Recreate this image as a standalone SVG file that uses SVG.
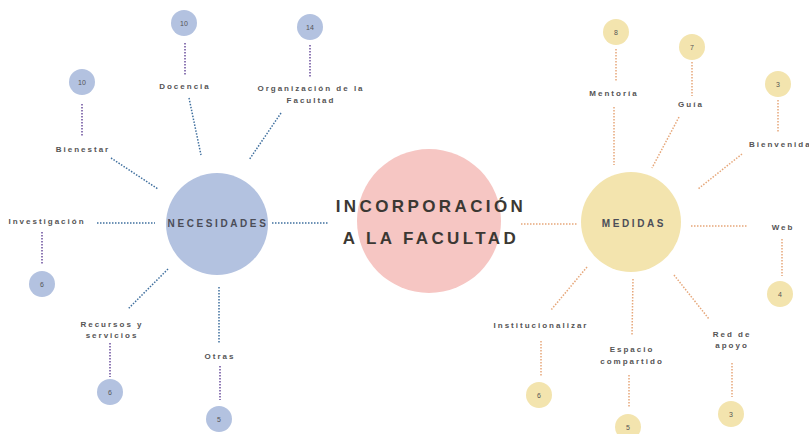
<svg xmlns="http://www.w3.org/2000/svg" width="809" height="434" viewBox="0 0 809 434">
<style>
.lbl{font-family:"Liberation Sans",Arial,sans-serif;font-weight:bold;font-size:8px;letter-spacing:2px;fill:#555455;text-anchor:middle}
.num{font-family:"Liberation Sans",Arial,sans-serif;font-size:7px;fill:#555455;text-anchor:middle}
.blue{fill:#b3c2e0}
.yel{fill:#f3e4ae}
.cb{stroke:#3f6f9e;stroke-width:1.5;stroke-dasharray:1.5 1.5;fill:none}
.cp{stroke:#6a4d9c;stroke-width:1.5;stroke-dasharray:1.5 1.5;fill:none}
.co{stroke:#e6a77a;stroke-width:1.5;stroke-dasharray:1.5 1.5;fill:none}
.big{font-family:"Liberation Sans",Arial,sans-serif;font-weight:bold;font-size:10px;letter-spacing:2.6px;fill:#4b4d58;text-anchor:middle}
.title{font-family:"Liberation Sans",Arial,sans-serif;font-weight:bold;font-size:17px;letter-spacing:3.4px;fill:#3b3833;text-anchor:middle}
</style>
<rect width="809" height="434" fill="#ffffff"/>
<g id="connectors">
<line class="cb" x1="189" y1="98" x2="201" y2="155"/>
<line class="cb" x1="281" y1="113" x2="249" y2="160"/>
<line class="cb" x1="111" y1="158" x2="158" y2="189"/>
<line class="cb" x1="97" y1="223" x2="155" y2="223"/>
<line class="cb" x1="272" y1="223" x2="328" y2="223"/>
<line class="cb" x1="168" y1="269" x2="128" y2="309"/>
<line class="cb" x1="219" y1="287" x2="219" y2="344"/>
<line class="cp" x1="185" y1="43" x2="185" y2="76"/>
<line class="cp" x1="310" y1="45" x2="310" y2="77"/>
<line class="cp" x1="82" y1="104" x2="82" y2="137"/>
<line class="cp" x1="42" y1="232" x2="42" y2="265"/>
<line class="cp" x1="110" y1="343" x2="110" y2="377"/>
<line class="cp" x1="220" y1="366" x2="220" y2="400"/>
<line class="co" x1="521" y1="224" x2="578" y2="224"/>
<line class="co" x1="614" y1="107" x2="614" y2="165"/>
<line class="co" x1="679" y1="117" x2="652" y2="168"/>
<line class="co" x1="742" y1="154" x2="698" y2="189"/>
<line class="co" x1="691" y1="226" x2="748" y2="226"/>
<line class="co" x1="587" y1="267" x2="551" y2="310"/>
<line class="co" x1="633" y1="279" x2="632" y2="335"/>
<line class="co" x1="674" y1="275" x2="709" y2="319"/>
<line class="co" x1="616" y1="49" x2="616" y2="82"/>
<line class="co" x1="692" y1="62" x2="692" y2="96"/>
<line class="co" x1="778" y1="100" x2="778" y2="133"/>
<line class="co" x1="782" y1="239" x2="782" y2="276"/>
<line class="co" x1="541" y1="341" x2="541" y2="377"/>
<line class="co" x1="629" y1="375" x2="629" y2="408"/>
<line class="co" x1="732" y1="363" x2="732" y2="397"/>
</g>
<g id="center">
<circle cx="429" cy="221" r="72" fill="#f6c6c3"/>
<text class="title" x="431" y="212">INCORPORACIÓN</text>
<text class="title" x="431" y="244">A LA FACULTAD</text>
</g>
<g id="necesidades">
<circle class="blue" cx="217" cy="224" r="51"/>
<text class="big" x="218" y="227">NECESIDADES</text>
</g>
<g id="medidas">
<circle class="yel" cx="631" cy="222" r="50"/>
<text class="big" x="634" y="227">MEDIDAS</text>
</g>
<g id="docencia"><text class="lbl" x="185" y="89">Docencia</text></g>
<g id="docencia-n"><circle class="blue" cx="184" cy="23" r="13"/><text class="num" x="184" y="25.5">10</text></g>
<g id="organizacion"><text class="lbl" x="311" y="91">Organización de la</text><text class="lbl" x="311" y="103">Facultad</text></g>
<g id="organizacion-n"><circle class="blue" cx="310" cy="27" r="13"/><text class="num" x="310" y="29.5">14</text></g>
<g id="bienestar"><text class="lbl" x="83" y="152">Bienestar</text></g>
<g id="bienestar-n"><circle class="blue" cx="82" cy="82" r="13"/><text class="num" x="82" y="84.5">10</text></g>
<g id="investigacion"><text class="lbl" x="47" y="224">Investigación</text></g>
<g id="investigacion-n"><circle class="blue" cx="42" cy="284" r="13"/><text class="num" x="42" y="286.5">6</text></g>
<g id="recursos"><text class="lbl" x="112" y="327">Recursos y</text><text class="lbl" x="112" y="338">servicios</text></g>
<g id="recursos-n"><circle class="blue" cx="110" cy="392" r="13"/><text class="num" x="110" y="394.5">6</text></g>
<g id="otras"><text class="lbl" x="220" y="359">Otras</text></g>
<g id="otras-n"><circle class="blue" cx="219" cy="419" r="13"/><text class="num" x="219" y="421.5">5</text></g>
<g id="mentoria"><text class="lbl" x="614" y="96">Mentoría</text></g>
<g id="mentoria-n"><circle class="yel" cx="616" cy="32" r="13"/><text class="num" x="616" y="34.5">8</text></g>
<g id="guia"><text class="lbl" x="691" y="107">Guía</text></g>
<g id="guia-n"><circle class="yel" cx="692" cy="47" r="13"/><text class="num" x="692" y="49.5">7</text></g>
<g id="bienvenida"><text class="lbl" x="749" y="147" style="text-anchor:start">Bienvenida</text></g>
<g id="bienvenida-n"><circle class="yel" cx="778" cy="84" r="13"/><text class="num" x="778" y="86.5">3</text></g>
<g id="web"><text class="lbl" x="783" y="230">Web</text></g>
<g id="web-n"><circle class="yel" cx="780" cy="294" r="13"/><text class="num" x="780" y="296.5">4</text></g>
<g id="institucionalizar"><text class="lbl" x="541" y="328">Institucionalizar</text></g>
<g id="institucionalizar-n"><circle class="yel" cx="539" cy="395" r="13"/><text class="num" x="539" y="397.5">6</text></g>
<g id="espacio"><text class="lbl" x="632" y="352">Espacio</text><text class="lbl" x="632" y="364">compartido</text></g>
<g id="espacio-n"><circle class="yel" cx="628" cy="427" r="13"/><text class="num" x="628" y="429.5">5</text></g>
<g id="red"><text class="lbl" x="732" y="337">Red de</text><text class="lbl" x="732" y="348">apoyo</text></g>
<g id="red-n"><circle class="yel" cx="731" cy="414" r="13"/><text class="num" x="731" y="416.5">3</text></g>
</svg>
